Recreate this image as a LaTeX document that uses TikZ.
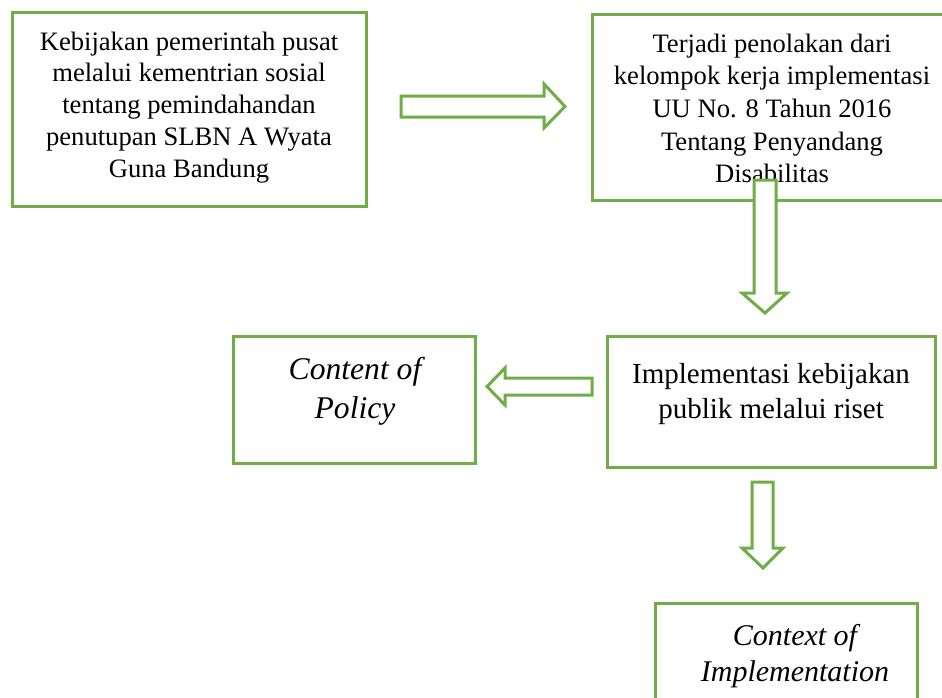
\documentclass[tikz,border=0pt]{standalone}
\usepackage{fontspec}
\setmainfont{Liberation Serif}
\usetikzlibrary{calc}
\definecolor{grn}{HTML}{70AD47}
\begin{document}
\begin{tikzpicture}[x=1pt,y=-1pt,
  box/.style={draw=grn, line width=3pt, rectangle, inner sep=0pt, fill=white},
  txt/.style={align=center, inner sep=0pt, text=black},
  blockarrow/.style={draw=grn, fill=white, line width=3pt, line join=miter}]
\useasboundingbox (0,0) rectangle (942,697);
\clip (0,0) rectangle (942,697);
\fill[white] (0,0) rectangle (942,697);

% boxes
\node[box, minimum width=354pt, minimum height=194pt] (b1) at (189.5,109.5) {};
\node[box, minimum width=360pt, minimum height=186pt] (b2) at (772,107) {};
\node[box, minimum width=328pt, minimum height=131pt] (b3) at (771,401.5) {};
\node[box, minimum width=242pt, minimum height=127pt] (b4) at (354,399.5) {};
\node[box, minimum width=262pt, minimum height=100pt] (b5) at (786,653) {};

% texts
\node[txt, font=\fontsize{26.6}{31.8}\selectfont] (t1) at (189,107.3)
  {Kebijakan pemerintah pusat\\melalui kementrian sosial\\tentang pemindahandan\\penutupan SLBN A Wyata\\Guna Bandung};
\node[txt, font=\fontsize{26.6}{32.7}\selectfont] (t2) at (772,108.4)
  {Terjadi penolakan dari\\kelompok kerja implementasi\\UU No. 8 Tahun 2016\\Tentang Penyandang\\Disabilitas};
\node[txt, font=\fontsize{29}{35}\selectfont] (t3) at (771,393.8)
  {Implementasi kebijakan\\publik melalui riset};
\node[txt, font=\fontsize{31.6}{39}\selectfont\itshape] (t4) at (355,391)
  {Content of\\Policy};
\node[txt, font=\fontsize{30}{36}\selectfont\itshape] (t5) at (795,656)
  {Context of\\Implementation};

% block arrows
\draw[blockarrow] (401,96) -- (544,96) -- (544,84) -- (565,106.5) -- (544,128) -- (544,117) -- (401,117) -- cycle;
\draw[blockarrow] (754,180) -- (776,180) -- (776,293) -- (787,293) -- (765,313) -- (742,293) -- (754,293) -- cycle;
\draw[blockarrow] (592,378) -- (505,378) -- (505,368) -- (487,386.5) -- (505,405) -- (505,395) -- (592,395) -- cycle;
\draw[blockarrow] (752,482) -- (773,482) -- (773,548) -- (783,548) -- (763,568) -- (742,548) -- (752,548) -- cycle;
\end{tikzpicture}
\end{document}
